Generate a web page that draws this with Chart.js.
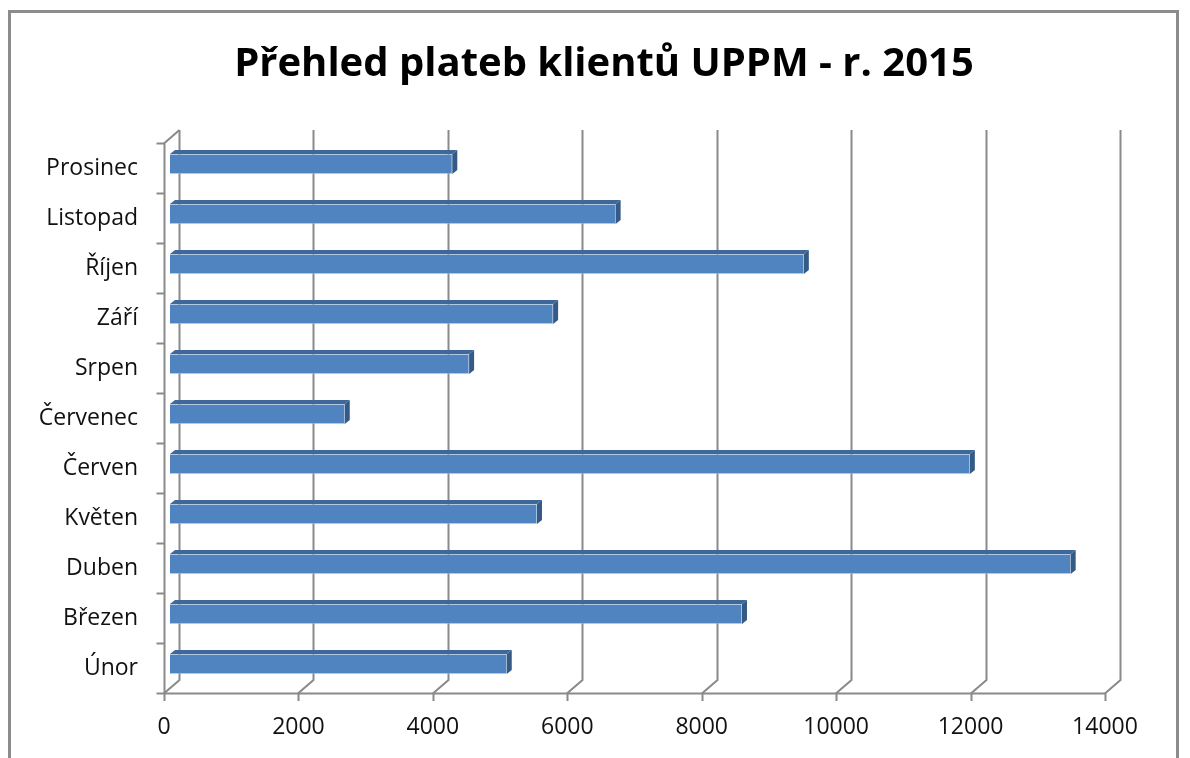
<!DOCTYPE html>
<html>
<head>
<meta charset="utf-8">
<script src="https://cdn.jsdelivr.net/npm/chart.js@4/dist/chart.umd.min.js"></script>
<style>
  html, body { margin: 0; padding: 0; background: #ffffff; }
  #wrap { width: 1190px; height: 758px; position: relative; }
</style>
</head>
<body>
<div id="wrap"><canvas id="c" width="1190" height="758"></canvas></div>
<script>
// ---- data ----
const chartTitle = 'Přehled plateb klientů UPPM - r. 2015';
const categories = ['Únor', 'Březen', 'Duben', 'Květen', 'Červen', 'Červenec', 'Srpen', 'Září', 'Říjen', 'Listopad', 'Prosinec'];
const payments = [5010, 8510, 13400, 5460, 11900, 2600, 4450, 5700, 9430, 6630, 4200];
const xTickValues = [0, 2000, 4000, 6000, 8000, 10000, 12000, 14000];

// ---- 3D look parameters ----
const DEPTH_X = 15, DEPTH_Y = 13;     // wall depth
const BAR_DX = 6, BAR_DY = 4;         // bar placed inside the depth
const FACE_DX = 5, FACE_DY = 4;       // bar's own depth
const GRID = '#8a8a8a';

const frame3d = {
  id: 'frame3d',
  beforeDraw(chart) {
    const ctx = chart.ctx;
    ctx.save();
    ctx.strokeStyle = '#8c8c8c';
    ctx.lineWidth = 3;
    ctx.beginPath();
    ctx.moveTo(9.5, 800);
    ctx.lineTo(9.5, 11.5);
    ctx.lineTo(1177.5, 11.5);
    ctx.lineTo(1177.5, 800);
    ctx.stroke();
    ctx.restore();
  },
  beforeDatasetsDraw(chart) {
    const ctx = chart.ctx;
    const xs = chart.scales.x, ys = chart.scales.y;
    const a = chart.chartArea;
    ctx.save();
    ctx.strokeStyle = GRID;
    ctx.lineWidth = 2;
    ctx.lineJoin = 'miter';
    xTickValues.forEach(v => {
      const px = Math.round(xs.getPixelForValue(v)) + 0.5;
      ctx.beginPath();
      ctx.moveTo(px, a.bottom + 8);
      ctx.lineTo(px, a.bottom);
      ctx.lineTo(px + DEPTH_X, a.bottom - DEPTH_Y);
      ctx.lineTo(px + DEPTH_X, a.top - DEPTH_Y);
      ctx.stroke();
    });
    ctx.beginPath();
    ctx.moveTo(xs.getPixelForValue(0), a.bottom + 0.5);
    ctx.lineTo(xs.getPixelForValue(14000), a.bottom + 0.5);
    ctx.stroke();
    const lx = Math.round(xs.getPixelForValue(0)) + 0.5;
    ctx.beginPath();
    ctx.moveTo(lx, a.bottom);
    ctx.lineTo(lx, a.top);
    ctx.lineTo(lx + DEPTH_X, a.top - DEPTH_Y);
    ctx.stroke();
    const n = categories.length;
    for (let i = 0; i <= n; i++) {
      const yb = Math.round(ys.getPixelForValue(i - 0.5)) + 0.5;
      ctx.beginPath();
      ctx.moveTo(lx - 8, yb);
      ctx.lineTo(lx, yb);
      ctx.stroke();
    }
    ctx.restore();
    ctx.save();
    ctx.translate(BAR_DX, -BAR_DY);
  },
  afterDatasetsDraw(chart) {
    const ctx = chart.ctx;
    const meta = chart.getDatasetMeta(0);
    meta.data.forEach(el => {
      const p = el.getProps(['x', 'y', 'base', 'height'], true);
      const x0 = p.base, x1 = p.x;
      const yT = p.y - p.height / 2, yB = p.y + p.height / 2;
      ctx.fillStyle = '#3e6899';
      ctx.beginPath();
      ctx.moveTo(x0, yT);
      ctx.lineTo(x0 + FACE_DX, yT - FACE_DY);
      ctx.lineTo(x1 + FACE_DX, yT - FACE_DY);
      ctx.lineTo(x1, yT);
      ctx.closePath();
      ctx.fill();
      ctx.fillStyle = '#355a86';
      ctx.beginPath();
      ctx.moveTo(x1, yT);
      ctx.lineTo(x1 + FACE_DX, yT - FACE_DY);
      ctx.lineTo(x1 + FACE_DX, yB - FACE_DY);
      ctx.lineTo(x1, yB);
      ctx.closePath();
      ctx.fill();
    });
    ctx.restore();
  }
};

new Chart(document.getElementById('c'), {
  type: 'bar',
  data: {
    labels: categories,
    datasets: [{
      data: payments,
      backgroundColor: '#5084c0',
      borderColor: 'rgba(180,202,228,0.6)',
      borderWidth: 1,
      barThickness: 20
    }]
  },
  options: {
    indexAxis: 'y',
    responsive: false,
    animation: false,
    events: [],
    layout: { padding: { left: 36, right: 18, top: 0, bottom: 0 } },
    plugins: {
      legend: { display: false },
      tooltip: { enabled: false },
      title: {
        display: true,
        text: chartTitle,
        color: '#000000',
        font: { family: 'Open Sans', size: 40, weight: 'bold', lineHeight: 1.2 },
        padding: { top: 41, bottom: 54 }
      }
    },
    scales: {
      x: {
        min: 0,
        max: 14000,
        afterBuildTicks(scale) { scale.ticks = xTickValues.map(v => ({ value: v })); },
        afterFit(scale) { scale.height = 65; },
        grid: { display: false, drawTicks: false },
        border: { display: false },
        ticks: {
          color: '#111111',
          font: { family: 'Open Sans', size: 23 },
          padding: 21,
          maxRotation: 0,
          callback: (v) => String(v)
        }
      },
      y: {
        reverse: true,
        afterFit(scale) { scale.width = 128; },
        grid: { display: false, drawTicks: false },
        border: { display: false },
        ticks: {
          color: '#111111',
          font: { family: 'Open Sans', size: 23 },
          padding: 26
        }
      },
      yRight: {
        type: 'category',
        position: 'right',
        afterFit(scale) { scale.width = 67; },
        grid: { display: false, drawTicks: false },
        border: { display: false },
        ticks: { display: false }
      }
    }
  },
  plugins: [frame3d]
});
</script>
</body>
</html>
